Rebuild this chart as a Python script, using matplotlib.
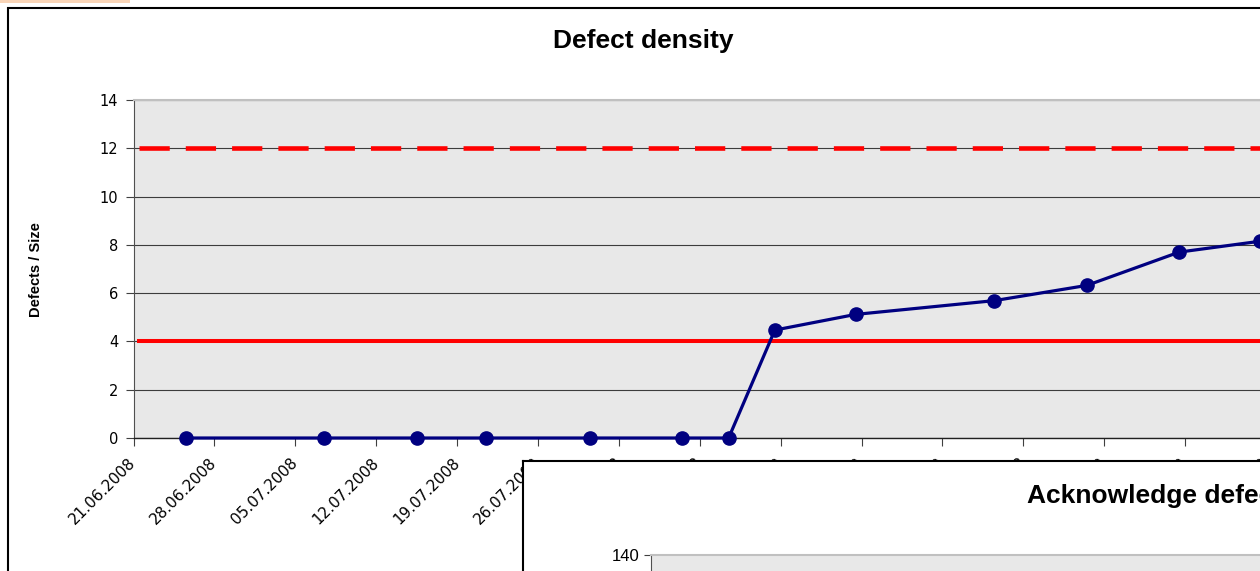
import datetime as dt

import numpy as np
import matplotlib
matplotlib.use('Agg')
import matplotlib.pyplot as plt
import matplotlib.dates as mdates
from matplotlib.patches import Rectangle

# measurement dates and defect density values
dates = ['25.06.2008', '07.07.2008', '15.07.2008', '21.07.2008',
         '30.07.2008', '07.08.2008', '11.08.2008', '15.08.2008',
         '22.08.2008', '03.09.2008', '11.09.2008', '19.09.2008',
         '26.09.2008']
density = [0, 0, 0, 0, 0, 0, 0, 4.47, 5.12, 5.69, 6.32, 7.70, 8.15]

upper_limit = 12
lower_limit = 4
axis_start = '21.06.2008'
axis_end = '04.10.2008'

second_title = 'Acknowledge defects'
second_yticks = [0, 20, 40, 60, 80, 100, 120, 140]


def to_num(s):
    return mdates.date2num(dt.datetime.strptime(s, '%d.%m.%Y'))


# Excel places points in the middle of the day slot
half_day = 0.5
x = np.array([to_num(d) for d in dates]) + half_day
x0 = to_num(axis_start)
x1 = to_num(axis_end)

W, H = 1260, 571
fig = plt.figure(figsize=(W / 100, H / 100), dpi=100)

# outer chart frame (cropped screenshot)
fig.patches.append(Rectangle((8 / W, -0.1), 1.2, 1 - 8 / H + 0.1,
                             transform=fig.transFigure, fill=False,
                             edgecolor='#000000', linewidth=1.5))
fig.patches.append(Rectangle((0, 1 - 3 / H), 130 / W, 3 / H,
                             transform=fig.transFigure, facecolor='#F6B98A',
                             edgecolor='none', alpha=0.6))

left = 133.6 / W
bottom = 1 - 438 / H
top = 1 - 100 / H
width = (x1 - x0) * 11.554 / W
ax = fig.add_axes([left, bottom, width, top - bottom])
ax.set_facecolor('#E8E8E8')

ax.set_xlim(x0, x1)
ax.set_ylim(0, 14)
ax.set_yticks(np.arange(0, 15, 2))
ax.yaxis.grid(True, color='#3C3C3C', linewidth=0.8)
ax.set_axisbelow(True)

ax.plot([x0 + half_day, x1 + 5], [upper_limit, upper_limit], color='#FF0000',
        linewidth=3.3, linestyle=(0, (6.6, 3.5)), zorder=3)
ax.plot([x0 + half_day, x1 + 5], [lower_limit, lower_limit], color='#FF0000',
        linewidth=2.9, zorder=3)
ax.plot(x, density, color='#000080', linewidth=2.3, marker='o',
        markersize=9.5, clip_on=False, zorder=4)

ax.xaxis.set_major_locator(mdates.DayLocator(interval=7))
ax.xaxis.set_major_formatter(mdates.DateFormatter('%d.%m.%Y'))
for lbl in ax.get_xticklabels():
    lbl.set_rotation(45)
    lbl.set_ha('right')
    lbl.set_va('center')
    lbl.set_rotation_mode('anchor')

ax.tick_params(axis='x', direction='out', length=6, width=0.8,
               color='#404040', labelsize=11, pad=10)
ax.tick_params(axis='y', direction='out', length=6, width=0.8,
               color='#404040', labelsize=10.5, pad=5)

ax.spines['right'].set_visible(False)
ax.spines['top'].set_color('#C0C0C0')
ax.spines['top'].set_linewidth(1.5)
ax.spines['left'].set_color('#505050')
ax.spines['bottom'].set_color('#202020')
ax.spines['bottom'].set_linewidth(1.0)

fig.text(643 / W, 1 - 41 / H, 'Defect density', ha='center', va='center',
         fontsize=19, fontweight='bold', family='Liberation Sans')
fig.text(36 / W, 1 - 270 / H, 'Defects / Size', ha='center', va='center',
         rotation=90, fontsize=10.5, fontweight='bold',
         family='Liberation Sans')

# second chart lying over the first one
box = fig.add_axes([523 / W, -0.2, 0.8, 0.2 + (H - 461) / H])
box.set_zorder(5)
box.set_facecolor('white')
box.set_xticks([])
box.set_yticks([])
for s in box.spines.values():
    s.set_color('#000000')
    s.set_linewidth(1.5)
box.text(1027 / W, 1 - 496 / H, second_title, transform=fig.transFigure,
         ha='left', va='center', fontsize=19, fontweight='bold',
         family='Liberation Sans')

ax2 = fig.add_axes([651 / W, -0.3, 0.6, 0.3 + (H - 555) / H])
ax2.set_zorder(6)
ax2.set_facecolor('#E8E8E8')
ax2.set_ylim(0, 140)
ax2.set_yticks(second_yticks)
ax2.set_xticks([])
ax2.tick_params(axis='y', direction='out', length=5, width=0.8,
                color='#404040', labelsize=12, pad=3)
for lbl in ax2.get_yticklabels():
    lbl.set_family('Liberation Sans')
ax2.spines['top'].set_color('#C0C0C0')
ax2.spines['top'].set_linewidth(1.5)
ax2.spines['left'].set_color('#505050')
ax2.spines['right'].set_visible(False)
ax2.spines['bottom'].set_visible(False)

fig.savefig('out.png', dpi=100)
